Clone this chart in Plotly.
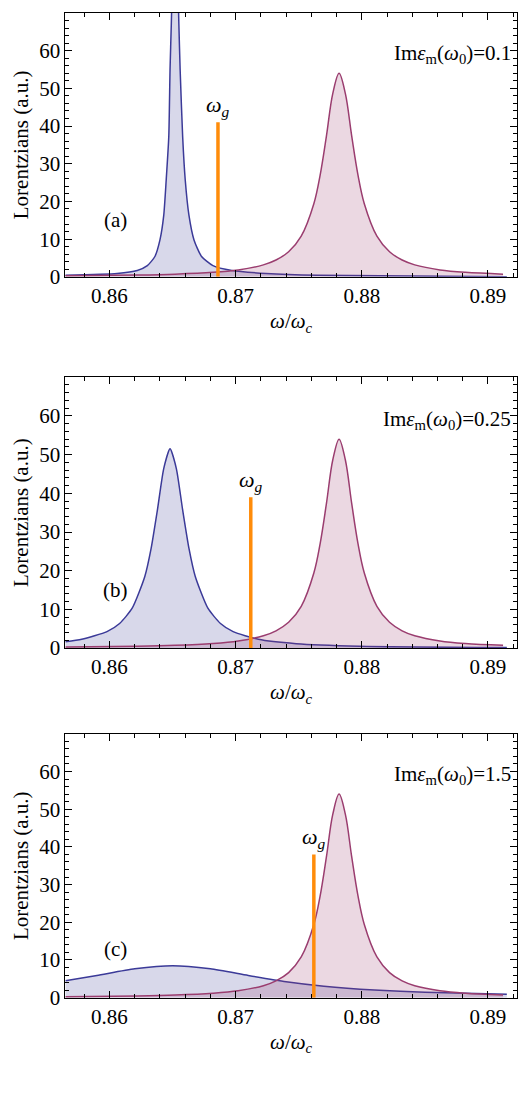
import plotly.graph_objects as go

# red (upper) resonance, same in all panels
red_x = [0.8565, 0.8622, 0.8652, 0.8682, 0.8702, 0.8722, 0.8732, 0.8742, 0.8752, 0.8762, 0.8767,
         0.8772, 0.8777, 0.8782, 0.8787, 0.8792, 0.8797, 0.8802, 0.8812, 0.8822, 0.8832, 0.8842,
         0.8862, 0.8882, 0.8912]
red_y = [0.26, 0.47, 0.71, 1.19, 1.84, 3.18, 4.46, 6.66, 10.8, 19.4, 27, 37.4, 48.6, 54, 48.6,
         37.4, 27, 19.4, 10.8, 6.66, 4.46, 3.18, 1.84, 1.19, 0.71]

# blue (lower) resonance, one per panel
blue_a_x = [0.8565, 0.8606, 0.8622, 0.8630, 0.8636, 0.8640, 0.8643, 0.8645, 0.8647, 0.8648,
            0.8649, 0.8650, 0.8652, 0.8654, 0.8655, 0.8656, 0.8658, 0.8660, 0.8663, 0.8667,
            0.8673, 0.8682, 0.8697, 0.8724, 0.8765, 0.8915]
blue_a_y = [0.40, 0.90, 1.69, 2.97, 5.4, 9.8, 16.3, 25.9, 37.2, 55, 67, 80.9, 110, 80.9, 67,
            55, 37.2, 25.9, 16.3, 9.8, 5.4, 2.97, 1.69, 0.9, 0.40, 0.04]

blue_b_x = [0.8565, 0.8578, 0.8598, 0.8608, 0.8618, 0.8628, 0.8633, 0.8638, 0.8643, 0.8648,
            0.8653, 0.8658, 0.8663, 0.8668, 0.8678, 0.8688, 0.8698, 0.8718, 0.8748, 0.8798, 0.8915]
blue_b_y = [1.63, 2.26, 4.25, 6.35, 10.3, 18.5, 25.75, 35.7, 46.4, 51.5, 46.4, 35.7, 25.75, 18.5,
            10.3, 6.35, 4.25, 2.26, 1.13, 0.5, 0.16]

blue_c_x = [0.8565, 0.8590, 0.8620, 0.8650, 0.8680, 0.8710, 0.8740, 0.8770, 0.8810, 0.8850, 0.8915]
blue_c_y = [4.5, 5.89, 7.65, 8.5, 7.65, 5.89, 4.25, 3.06, 2.04, 1.43, 0.88]

blue_x = [blue_a_x, blue_b_x, blue_c_x]
blue_y = [blue_a_y, blue_b_y, blue_c_y]
omega_g = [0.8686, 0.8712, 0.8762]
omega_g_h = [41, 39, 38]
labels = ["(a)", "(b)", "(c)"]
im_eps = ["0.1", "0.25", "1.5"]

blue_line = "#3b3a98"
red_line = "#9a3d6f"
orange = "#ff8c0a"
font = "Liberation Serif"

domains = [(0.7547, 0.9955), (0.4160, 0.6631), (0.0970, 0.3378)]

fig = go.Figure()
for i in range(3):
    xa = "x" if i == 0 else f"x{i+1}"
    ya = "y" if i == 0 else f"y{i+1}"
    fig.add_trace(go.Scatter(x=blue_x[i], y=blue_y[i], mode="lines", line=dict(color=blue_line, width=1.5, shape="spline", smoothing=0.6),
                             fill="tozeroy", fillcolor="rgba(59,58,152,0.2)", xaxis=xa, yaxis=ya, showlegend=False))
    fig.add_trace(go.Scatter(x=red_x, y=red_y, mode="lines", line=dict(color=red_line, width=1.5, shape="spline"),
                             fill="tozeroy", fillcolor="rgba(154,61,111,0.2)", xaxis=xa, yaxis=ya, showlegend=False))
    fig.add_trace(go.Scatter(x=[omega_g[i], omega_g[i]], y=[0, omega_g_h[i]], mode="lines",
                             line=dict(color=orange, width=3.5), xaxis=xa, yaxis=ya, showlegend=False))
    axis = dict(showline=True, mirror="allticks", linecolor="black", linewidth=1, ticks="inside",
                ticklen=7, tickcolor="black", showgrid=False, zeroline=False)
    fig.layout[f"xaxis{'' if i == 0 else i+1}"] = dict(axis, range=[0.8565, 0.8923], domain=[0.112, 0.994],
        anchor=ya, tickvals=[0.86, 0.87, 0.88, 0.89], ticktext=["0.86", "0.87", "0.88", "0.89"],
        minor=dict(ticks="inside", ticklen=4, tickcolor="black", dtick=0.002),
        title=dict(text="<i>ω</i>/<i>ω</i><sub><i>c</i></sub>", font=dict(family=font, size=21, color="black"), standoff=6))
    fig.layout[f"yaxis{'' if i == 0 else i+1}"] = dict(axis, range=[0, 70], domain=list(domains[i]), anchor=xa,
        tickvals=[0, 10, 20, 30, 40, 50, 60],
        minor=dict(ticks="inside", ticklen=4, tickcolor="black", dtick=2),
        title=dict(text="Lorentzians (a.u.)", font=dict(family=font, size=21, color="black"), standoff=4))
    fig.add_annotation(x=omega_g[i], y=omega_g_h[i], xref=xa, yref=ya, yanchor="bottom", xanchor="center",
                       text="<i>ω</i><sub><i>g</i></sub>", showarrow=False, font=dict(family=font, size=22, color="black"))
    fig.add_annotation(x=0.8605, y=15 if i < 2 else 13, xref=xa, yref=ya, text=labels[i], showarrow=False,
                       font=dict(family=font, size=21, color="black"))
    fig.add_annotation(x=0.8920, y=59, xref=xa, yref=ya, xanchor="right",
                       text=f"Im<i>ε</i><sub>m</sub>(<i>ω</i><sub>0</sub>)={im_eps[i]}", showarrow=False,
                       font=dict(family=font, size=21, color="black"))

fig.update_xaxes(tickfont=dict(family="Liberation Serif", size=21, color="black"))
fig.update_yaxes(tickfont=dict(family="Liberation Serif", size=21, color="black"))
fig.update_layout(width=512, height=1108, margin=dict(l=0, r=0, t=0, b=0),
                  font=dict(family=font, size=20, color="black"),
                  plot_bgcolor="white", paper_bgcolor="white")
fig.write_html("out.html")
